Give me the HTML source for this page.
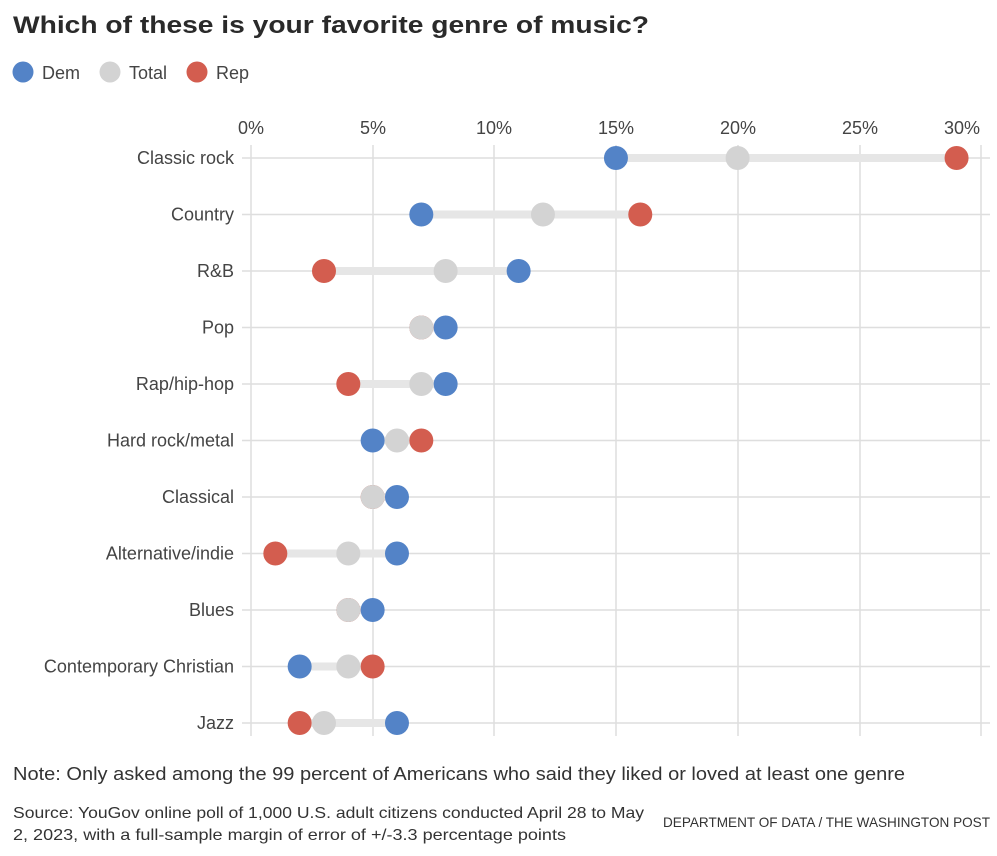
<!DOCTYPE html>
<html><head><meta charset="utf-8"><style>
html,body{margin:0;padding:0;background:#fff;}
svg{display:block;font-family:"Liberation Sans",sans-serif;}
</style></head><body>
<svg width="997" height="856" viewBox="0 0 997 856" xmlns="http://www.w3.org/2000/svg">
<text x="13" y="33" font-size="24" font-weight="bold" fill="#2a2a2a" textLength="636" lengthAdjust="spacingAndGlyphs">Which of these is your favorite genre of music?</text>
<circle cx="23" cy="72" r="10.5" fill="#5383c7"/><text x="42" y="79" font-size="18" fill="#444">Dem</text>
<circle cx="110" cy="72" r="10.5" fill="#d3d3d3"/><text x="129" y="79" font-size="18" fill="#444">Total</text>
<circle cx="197" cy="72" r="10.5" fill="#d35d4f"/><text x="216" y="79" font-size="18" fill="#444">Rep</text>
<g stroke="#dedede" stroke-width="1.5">
<line x1="251" y1="145" x2="251" y2="736"/><line x1="373" y1="145" x2="373" y2="736"/><line x1="494" y1="145" x2="494" y2="736"/><line x1="616" y1="145" x2="616" y2="736"/><line x1="738" y1="145" x2="738" y2="736"/><line x1="860" y1="145" x2="860" y2="736"/><line x1="981" y1="145" x2="981" y2="736"/>
</g>
<g font-size="18" fill="#444" text-anchor="middle">
<text x="251" y="134">0%</text><text x="373" y="134">5%</text><text x="494" y="134">10%</text><text x="616" y="134">15%</text><text x="738" y="134">20%</text><text x="860" y="134">25%</text><text x="962" y="134">30%</text>
</g>
<g id="rows"></g>
<text x="13" y="780" font-size="18" fill="#333" textLength="892" lengthAdjust="spacingAndGlyphs">Note: Only asked among the 99 percent of Americans who said they liked or loved at least one genre</text>
<text x="13" y="818" font-size="16" fill="#333" textLength="631" lengthAdjust="spacingAndGlyphs">Source: YouGov online poll of 1,000 U.S. adult citizens conducted April 28 to May</text>
<text x="13" y="840" font-size="16" fill="#333" textLength="553" lengthAdjust="spacingAndGlyphs">2, 2023, with a full-sample margin of error of +/-3.3 percentage points</text>
<text x="663" y="827" font-size="14" fill="#333" textLength="327" lengthAdjust="spacingAndGlyphs">DEPARTMENT OF DATA / THE WASHINGTON POST</text>
</svg>
<script>
var d=[["Classic rock",15,20,29],["Country",7,12,16],["R&B",11,8,3],["Pop",8,7,7],["Rap/hip-hop",8,7,4],["Hard rock/metal",5,6,7],["Classical",6,5,5],["Alternative/indie",6,4,1],["Blues",5,4,4],["Contemporary Christian",2,4,5],["Jazz",6,3,2]];
var g=document.getElementById("rows"),s="";
function X(p){return 251+24.33*p;}
d.forEach(function(r,i){var y=158+56.5*i;
s+='<line x1="242" y1="'+y+'" x2="990" y2="'+y+'" stroke="#dedede" stroke-width="1.5"/>';
s+='<text x="234" y="'+(y+6)+'" font-size="18" fill="#444" text-anchor="end">'+r[0].replace("&","&amp;")+'</text>';
var mn=Math.min(r[1],r[2],r[3]),mx=Math.max(r[1],r[2],r[3]);
s+='<line x1="'+X(mn)+'" y1="'+y+'" x2="'+X(mx)+'" y2="'+y+'" stroke="#e6e6e6" stroke-width="8"/>';
s+='<circle cx="'+X(r[3])+'" cy="'+y+'" r="12" fill="#d35d4f"/>';
s+='<circle cx="'+X(r[2])+'" cy="'+y+'" r="12" fill="#d3d3d3"/>';
s+='<circle cx="'+X(r[1])+'" cy="'+y+'" r="12" fill="#5383c7"/>';
});
g.innerHTML=s;
</script>
</body></html>
